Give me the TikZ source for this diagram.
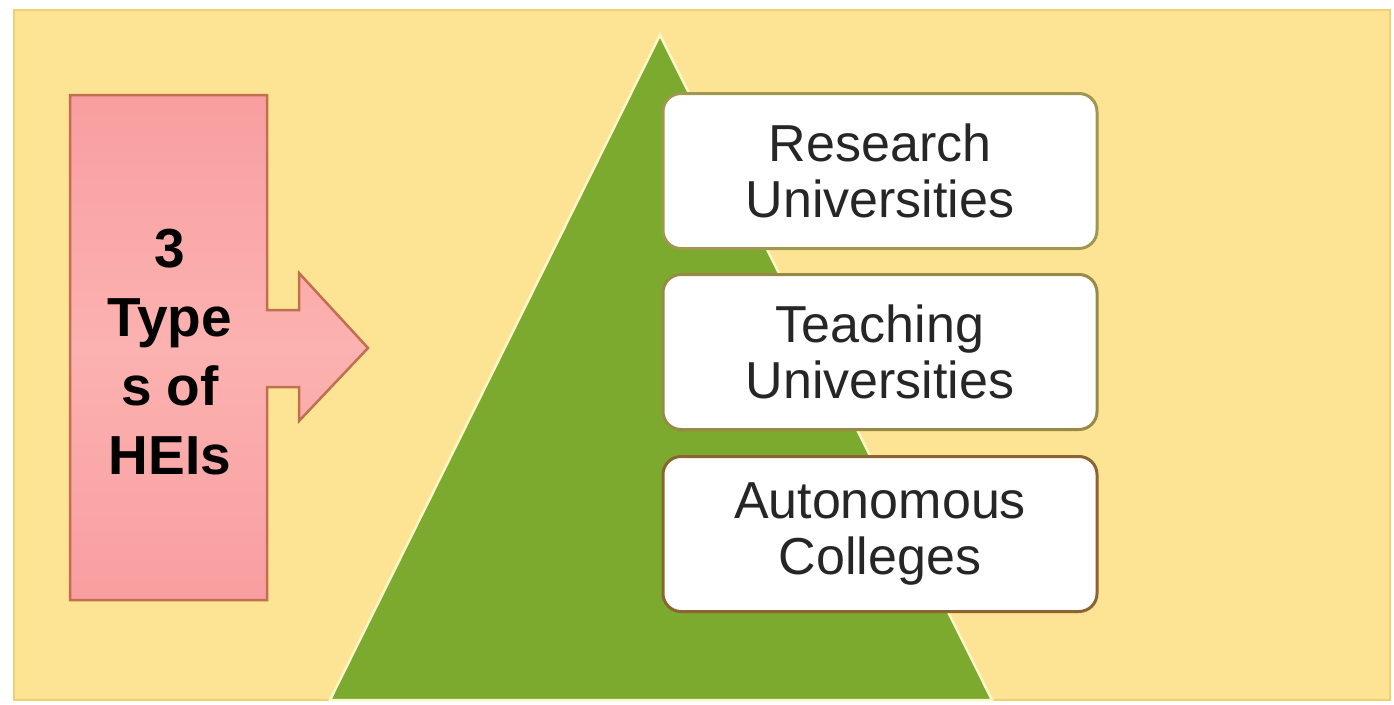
\documentclass[tikz,border=0pt]{standalone}
\usepackage{fontspec}
\setmainfont{Liberation Sans}
\definecolor{panel}{RGB}{253,228,148}
\definecolor{panelrim}{RGB}{242,208,110}
\definecolor{pinkfill}{RGB}{249,158,160}
\definecolor{pinklight}{RGB}{251,178,176}
\definecolor{pinkrim}{RGB}{192,112,78}
\definecolor{leaf}{RGB}{123,170,46}
\definecolor{leafrim}{RGB}{250,246,200}
\definecolor{rimA}{RGB}{160,152,78}
\definecolor{rimB}{RGB}{152,138,70}
\definecolor{rimC}{RGB}{140,100,52}
\definecolor{ink}{RGB}{38,38,38}
\tikzset{
  tierbox/.style={draw=#1, line width=3pt, rounded corners=18pt,
    fill=white, minimum width=434pt, minimum height=155pt,
    align=center, text=ink, inner sep=0pt,
    font=\fontsize{52}{56}\selectfont},
  headtext/.style={align=center, text=black, inner sep=0pt,
    font=\bfseries\fontsize{55}{69}\selectfont}
}
\begin{document}
\begin{tikzpicture}[x=1pt,y=-1pt]
  \useasboundingbox (0,0) rectangle (1394,704);
  \fill[white] (0,0) rectangle (1394,704);
  % yellow panel
  \filldraw[fill=panel, draw=panelrim, line width=2pt] (14,10) rectangle (1390,700);
  % pink block with its arrow
  \filldraw[top color=pinkfill, bottom color=pinkfill, middle color=pinklight,
            draw=pinkrim, line width=2.5pt, line join=miter]
    (70,95) -- (267,95) -- (267,310) -- (299,310) -- (299,273) -- (368,348)
    -- (299,421) -- (299,387) -- (267,387) -- (267,600) -- (70,600) -- cycle;
  \node[headtext] (types) at (170,352) {3\\Type\\s of\\HEIs};
  % green pyramid
  \filldraw[fill=leaf, draw=leafrim, line width=2.5pt, line join=miter]
    (660,35) -- (992,700) -- (330,700) -- cycle;
  % tiers
  \node[tierbox=rimA] (research) at (880,171) {Research\\Universities};
  \node[tierbox=rimB] (teaching) at (880,352) {Teaching\\Universities};
  \node[tierbox=rimC] (autonomous) at (880,534) {Autonomous\\Colleges};
\end{tikzpicture}
\end{document}
